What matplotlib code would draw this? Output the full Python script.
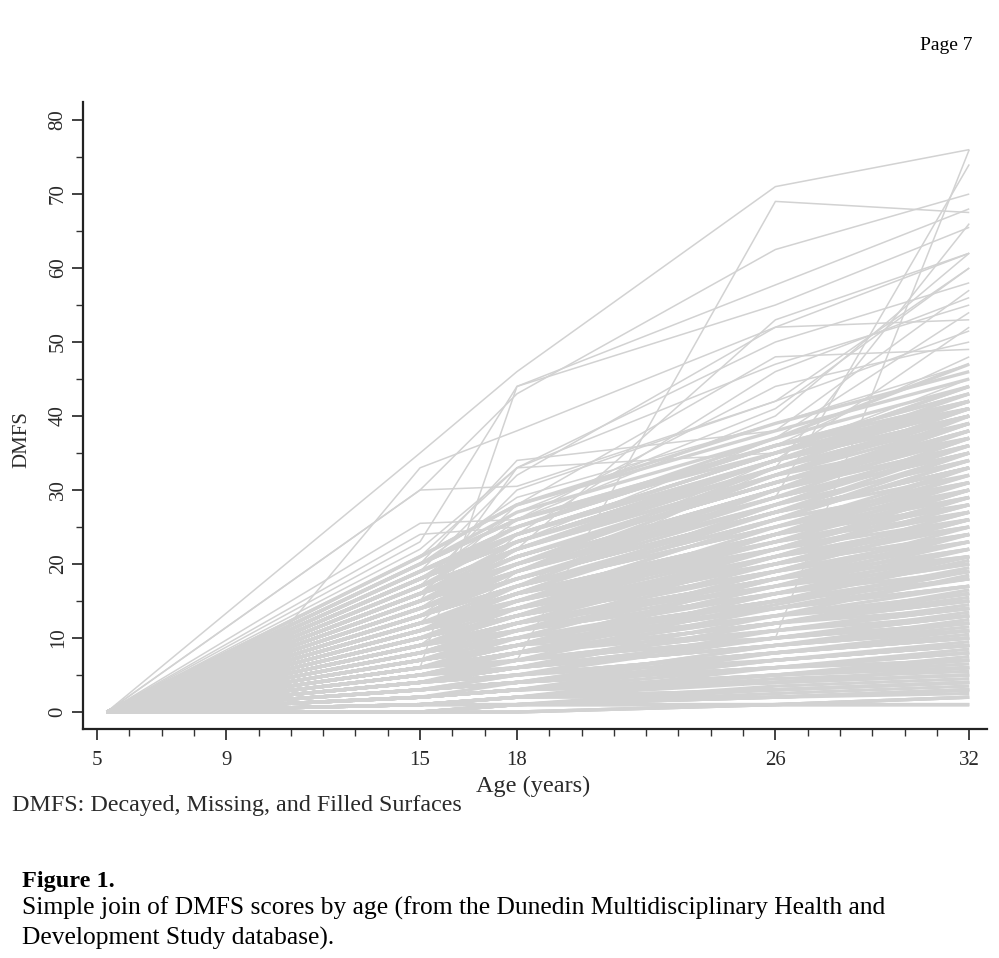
import matplotlib
matplotlib.use("Agg")
import matplotlib.pyplot as plt
from matplotlib.ticker import MultipleLocator, FixedLocator

# exam ages (first exam plotted at 5.3 as in the figure)
exam_ages = [5.3, 15, 18, 26, 32]
dmfs_age5 = 0

# main cohort, one column per person
dmfs_15 = [0, 16, 6, 11, 2, 19, 9, 4, 14, 1, 12, 7, 17, 3, 10, 15, 5, 20, 2, 13,
           0, 15, 7, 10, 3, 18, 9, 5, 13, 1, 11, 6, 16, 4, 9, 16, 6, 21, 1, 12,
           8, 18, 10, 2, 20, 9, 5, 13, 1, 11, 6, 15, 4, 10, 14, 3, 18, 7, 12, 0,
           14, 3, 9, 17, 5, 12, 2, 15, 7, 11, 4, 19, 2, 13, 9, 16, 4, 11, 6, 18,
           1, 14, 8, 13, 4, 20, 10, 5, 16, 0, 11, 8, 18, 4, 9, 15, 6, 19, 2, 14,
           11, 1, 17, 7, 12, 3, 19, 6, 15, 9, 2, 16, 5, 13, 10, 18, 2, 11, 8, 20,
           4, 14, 9, 0, 18, 7, 12, 2, 16, 8, 13, 5, 19, 1, 10, 16, 6, 12, 3, 15,
           8, 17, 5, 12, 0, 18, 8, 11, 3, 16, 6, 14, 4, 10, 17, 1, 12, 7, 21, 9,
           3, 7, 12, 1, 5, 9, 14, 2, 6, 10, 0, 4, 8, 13, 16, 3, 11, 6, 1, 9,
           5, 12, 2, 7, 15, 0, 10, 4, 8, 17, 3, 6, 13, 1, 9, 11, 5, 14, 2, 7,
           0, 8, 4, 12, 6, 18, 3, 10, 1, 15, 7, 2, 9, 5, 13, 4, 11, 0, 6, 16]
dmfs_18 = [1, 21, 8, 14, 3, 25, 11, 6, 18, 2, 16, 9, 22, 4, 13, 19, 7, 26, 3, 17,
           0, 20, 10, 13, 4, 24, 12, 6, 17, 2, 15, 8, 21, 5, 12, 20, 8, 28, 1, 16,
           10, 23, 13, 3, 26, 11, 7, 17, 1, 14, 8, 20, 5, 13, 19, 4, 24, 9, 15, 1,
           18, 4, 12, 22, 7, 16, 3, 20, 9, 14, 6, 25, 3, 18, 12, 21, 5, 15, 8, 23,
           2, 19, 11, 17, 5, 27, 13, 7, 21, 0, 15, 10, 23, 6, 11, 20, 8, 24, 3, 18,
           14, 2, 22, 9, 16, 4, 24, 8, 19, 12, 3, 21, 6, 17, 13, 23, 3, 14, 10, 26,
           5, 18, 12, 1, 23, 9, 16, 3, 20, 10, 17, 6, 25, 2, 13, 21, 7, 15, 4, 19,
           11, 22, 7, 16, 0, 24, 10, 14, 4, 20, 8, 18, 6, 13, 22, 1, 16, 9, 28, 12,
           4, 9, 14, 2, 8, 13, 19, 3, 9, 15, 1, 6, 12, 18, 22, 5, 17, 9, 2, 13,
           8, 16, 3, 11, 21, 1, 14, 6, 12, 24, 5, 10, 19, 2, 14, 16, 7, 20, 4, 11,
           1, 12, 7, 17, 9, 25, 4, 15, 2, 22, 10, 3, 13, 8, 19, 6, 16, 1, 9, 23]
dmfs_26 = [1, 31, 13, 20, 5, 36, 16, 9, 27, 3, 22, 15, 33, 7, 19, 29, 10, 35, 6, 25,
           1, 30, 14, 21, 6, 34, 17, 10, 26, 4, 24, 12, 31, 8, 18, 32, 11, 38, 2, 23,
           15, 34, 20, 4, 36, 18, 11, 25, 2, 23, 12, 30, 8, 21, 28, 7, 35, 14, 22, 1,
           28, 6, 18, 32, 11, 24, 4, 30, 14, 22, 10, 36, 5, 27, 19, 31, 8, 23, 13, 34,
           3, 29, 16, 26, 7, 37, 20, 10, 31, 1, 22, 16, 34, 9, 17, 30, 12, 35, 4, 27,
           20, 2, 33, 13, 24, 6, 35, 12, 28, 17, 4, 31, 10, 25, 19, 33, 5, 21, 15, 36,
           8, 27, 18, 1, 34, 13, 23, 5, 29, 15, 26, 9, 36, 3, 19, 31, 11, 22, 7, 29,
           16, 32, 10, 24, 1, 34, 15, 21, 6, 30, 12, 27, 9, 20, 33, 2, 24, 14, 39, 18,
           9, 15, 24, 6, 16, 22, 30, 8, 17, 26, 3.5, 12, 21, 29, 34, 11, 27, 18, 5, 24,
           14.5, 28, 7, 20, 32, 2.5, 25, 13, 22, 35, 10, 19, 30, 4.5, 23, 28, 15, 33, 9, 21,
           2, 21, 14, 30, 17, 37, 8, 26, 5, 34, 19, 7, 24, 16, 32, 12, 27, 3, 18, 34]
dmfs_32 = [2, 38, 15, 27, 6, 41, 21, 11, 33, 4, 29, 18, 40, 9, 24, 35, 13, 44, 7, 31,
           1, 36, 17, 25, 8, 41, 20, 12, 34, 5, 28, 16, 39, 10, 23, 37, 14, 45, 3, 30,
           19, 40, 26, 6, 42, 22, 13, 32, 3, 27, 15, 38, 11, 25, 36, 9, 41, 17, 29, 2,
           34, 8, 21, 40, 14, 30, 5, 37, 18, 26, 12, 43, 7, 33, 23, 39, 10, 28, 16, 41,
           4, 35, 20, 31, 9, 44, 24, 13, 38, 1, 27, 19, 40, 11, 22, 36, 15, 42, 6, 32,
           25, 3, 39, 17, 29, 8, 41, 14, 34, 21, 5, 37, 12, 30, 24, 40, 7, 26, 18, 43,
           10, 33, 22, 2, 40, 16, 28, 6, 36, 19, 31, 12, 42, 4, 23, 38, 14, 27, 9, 35,
           20, 39, 13, 30, 1, 41, 18, 26, 7, 37, 15, 33, 11, 24, 40, 3, 29, 17, 46, 21,
           12.5, 21, 33, 8.5, 22, 30, 39, 10.5, 24, 35, 4.5, 16.5, 28, 38, 42, 14.5, 35, 25, 6.5, 31,
           19.5, 37, 9.5, 27, 41, 3.5, 33, 18.5, 30, 44, 13.5, 26, 39, 5.5, 31, 37, 20.5, 42, 11.5, 28,
           2.5, 29, 19, 40, 23, 47, 10, 34, 7.5, 43, 26, 9, 32, 21, 41, 15.5, 36, 4, 24, 42]

# individual trajectories that stand out above the band
outlier_ages = [
    [5.3, 15, 18, 26, 32], [5.3, 15, 18, 26, 32], [5.3, 10.5, 15, 18, 26, 32],
    [5.3, 15, 18, 26, 32], [5.3, 15, 18, 32], [5.3, 15, 18, 26, 32],
    [5.3, 15, 18, 26, 32], [5.3, 15, 18, 26, 32], [5.3, 15, 18, 26, 32],
    [5.3, 15, 18, 26, 32], [5.3, 15, 18, 26, 32], [5.3, 15, 18, 26, 32],
    [5.3, 15, 18, 26, 32], [5.3, 15, 18, 26, 32], [5.3, 15, 18, 26, 32],
    [5.3, 15, 18, 26, 32], [5.3, 15, 18, 26, 32], [5.3, 15, 18, 26, 32],
    [5.3, 15, 18, 26, 32], [5.3, 15, 18, 26, 32], [5.3, 15, 18, 26, 32],
    [5.3, 15, 18, 26, 32], [5.3, 15, 18, 26, 32], [5.3, 15, 18, 26, 32],
    [5.3, 15, 18, 26, 32], [5.3, 15, 18, 26, 32],
]
outlier_dmfs = [
    [0, 35, 46, 71, 76], [0, 5, 7, 69, 67.5], [0, 9.5, 33, 38, 52, 62],
    [0, 30, 43, 62.5, 70], [0, 6, 44, 68], [0, 23, 44, 55, 65.5],
    [0, 14, 20, 29, 74], [0, 6, 9, 10, 76], [0, 25.5, 26, 40, 62],
    [0, 30, 30.5, 42, 60], [0, 22, 33, 50, 58], [0, 20, 34, 38, 57],
    [0, 21, 33, 47, 55], [0, 19, 32, 52, 53], [0, 17, 30, 42, 51.5],
    [0, 16, 26, 44, 50], [0, 24, 25, 36, 48], [0, 13, 22, 53, 62],
    [0, 15, 33, 35, 45], [0, 12, 24, 46, 56], [0, 18, 27, 41, 60],
    [0, 11, 17, 33, 66], [0, 20, 29, 39, 47], [0, 14, 23, 37, 54],
    [0, 9, 19, 34, 52], [0, 16, 28, 48, 49],
]

x_ticks = [5, 9, 15, 18, 26, 32]

line_color = "#d2d2d2"
text_color = "#2a2a2a"
serif = ["Liberation Serif", "DejaVu Serif"]

fig = plt.figure(figsize=(9.99, 9.58), dpi=100)
ax = fig.add_axes([0.0831, 0.2390, 0.9049, 0.6545])

# spaghetti lines: dense band drawn thick so it reads as solid grey
for i in range(len(dmfs_32)):
    vals = [dmfs_age5, dmfs_15[i], dmfs_18[i], dmfs_26[i], dmfs_32[i]]
    ax.plot(exam_ages, vals, color=line_color, lw=2.4, solid_capstyle="butt")
for a, v in zip(outlier_ages, outlier_dmfs):
    ax.plot(a, v, color=line_color, lw=1.1, solid_capstyle="butt")

ax.set_xlim(4.567, 32.55)
ax.set_ylim(-2.3, 82.43)

for s in ["top", "right"]:
    ax.spines[s].set_visible(False)
for s in ["left", "bottom"]:
    ax.spines[s].set_color("#222222")
    ax.spines[s].set_linewidth(1.6)

ax.xaxis.set_major_locator(FixedLocator(x_ticks))
ax.xaxis.set_minor_locator(MultipleLocator(1))
ax.yaxis.set_major_locator(MultipleLocator(10))
ax.yaxis.set_minor_locator(MultipleLocator(5))
ax.tick_params(which="major", length=8, width=1.3, color="#333333")
ax.tick_params(which="minor", length=5, width=1.0, color="#333333")
ax.tick_params(axis="x", labelsize=15, labelcolor=text_color, pad=8)
ax.tick_params(axis="y", labelsize=15, labelcolor=text_color, pad=3)
for lab in ax.get_xticklabels():
    lab.set_family(serif)
for lab in ax.get_yticklabels():
    lab.set_family(serif)
    lab.set_rotation(90)
    lab.set_va("center")

# axis labels and notes
fig.text(22 / 999, 1 - 440 / 958, "DMFS", rotation=90, ha="center", va="center",
         fontsize=15, family=serif, color=text_color)
fig.text(533 / 999, 1 - 786 / 958, "Age (years)", ha="center", va="center",
         fontsize=17.5, family=serif, color=text_color)
fig.text(12 / 999, 1 - 806 / 958, "DMFS: Decayed, Missing, and Filled Surfaces",
         ha="left", va="center", fontsize=17.3, family=serif, color=text_color)
fig.text(973 / 999, 1 - 45 / 958, "Page 7", ha="right", va="center",
         fontsize=14, family=serif, color="black")
fig.text(22 / 999, 1 - 881 / 958, "Figure 1.", ha="left", va="center",
         fontsize=17.5, family=serif, weight="bold", color="black")
fig.text(22 / 999, 1 - 908 / 958,
         "Simple join of DMFS scores by age (from the Dunedin Multidisciplinary Health and",
         ha="left", va="center", fontsize=18.4, family=serif, color="black")
fig.text(22 / 999, 1 - 938 / 958, "Development Study database).",
         ha="left", va="center", fontsize=18.4, family=serif, color="black")

fig.savefig("out.png", dpi=100)
